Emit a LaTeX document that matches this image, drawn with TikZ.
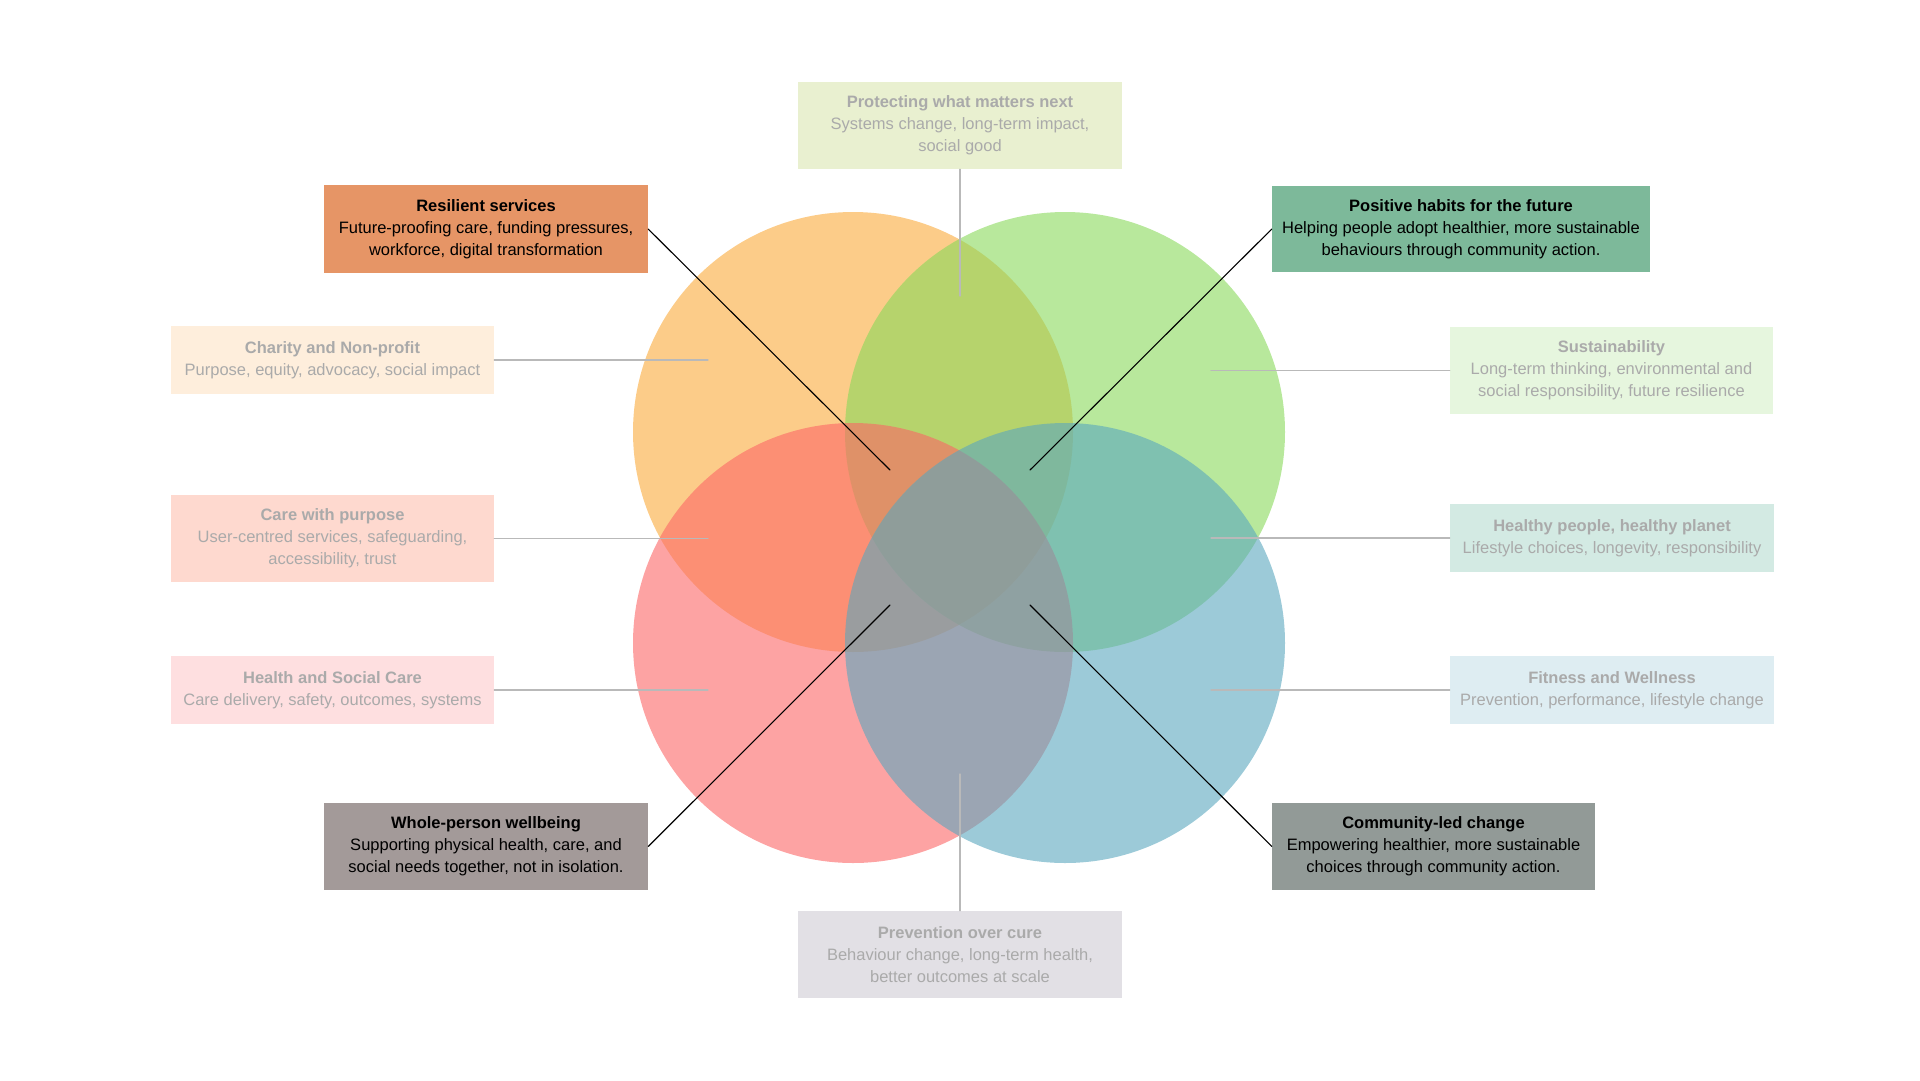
\documentclass[tikz,border=0pt]{standalone}
\usepackage{fontspec}
\setmainfont{Liberation Sans}
\usepackage{tikz}

\definecolor{ringorange}{RGB}{250,170,58}
\definecolor{ringgreen}{RGB}{136,217,90}
\definecolor{ringred}{RGB}{252,102,102}
\definecolor{ringblue}{RGB}{90,167,190}
\definecolor{fadedtext}{RGB}{170,170,170}
\definecolor{linkgray}{RGB}{185,185,185}

\definecolor{protectfill}{RGB}{233,240,208}
\definecolor{resilientfill}{RGB}{230,149,102}
\definecolor{habitsfill}{RGB}{125,185,154}
\definecolor{charityfill}{RGB}{254,238,220}
\definecolor{sustainfill}{RGB}{230,246,222}
\definecolor{carefill}{RGB}{254,217,207}
\definecolor{planetfill}{RGB}{211,234,227}
\definecolor{healthfill}{RGB}{254,223,224}
\definecolor{fitnessfill}{RGB}{222,237,242}
\definecolor{wholefill}{RGB}{163,154,153}
\definecolor{communityfill}{RGB}{146,154,151}
\definecolor{preventfill}{RGB}{226,224,229}

\tikzset{
  ring/.style={fill=#1, fill opacity=0.6},
  softbox/.style={fill=#1, text=fadedtext, align=center, inner sep=0pt,
    minimum width=324pt, minimum height=87pt,
    font=\fontsize{16.5}{22}\selectfont},
  strongbox/.style={softbox=#1, text=black},
  softlink/.style={draw=linkgray, line width=1.1pt},
  stronglink/.style={draw=black, line width=1.1pt}
}

\begin{document}
\begin{tikzpicture}[x=1pt,y=-1pt,line cap=round,line join=round]
    \useasboundingbox (0,0) rectangle (1920,1080);

    % the four circles
    \fill[ring=ringorange] (853,432) circle[radius=220pt];
    \fill[ring=ringgreen] (1065,432) circle[radius=220pt];
    \fill[ring=ringred] (853,643) circle[radius=220pt];
    \fill[ring=ringblue] (1065,643) circle[radius=220pt];

    % outer themes
    \node[softbox=protectfill] (protect) at (960,125.5)
        {\textbf{Protecting what matters next}\\Systems change, long-term impact,\\social good};
    \node[softbox=preventfill] (prevent) at (960,954.5)
        {\textbf{Prevention over cure}\\Behaviour change, long-term health,\\better outcomes at scale};

    \node[softbox=charityfill, minimum width=323pt, minimum height=68pt] (charity) at (332.5,360)
        {\textbf{Charity and Non-profit}\\Purpose, equity, advocacy, social impact};
    \node[softbox=carefill, minimum width=323pt] (care) at (332.5,538.5)
        {\textbf{Care with purpose}\\User-centred services, safeguarding,\\accessibility, trust};
    \node[softbox=healthfill, minimum width=323pt, minimum height=68pt] (health) at (332.5,690)
        {\textbf{Health and Social Care}\\Care delivery, safety, outcomes, systems};

    \node[softbox=sustainfill, minimum width=323pt] (sustain) at (1611.5,370.5)
        {\textbf{Sustainability}\\Long-term thinking, environmental and\\social responsibility, future resilience};
    \node[softbox=planetfill, minimum height=68pt] (planet) at (1612,538)
        {\textbf{Healthy people, healthy planet}\\Lifestyle choices, longevity, responsibility};
    \node[softbox=fitnessfill, minimum height=68pt] (fitness) at (1612,690)
        {\textbf{Fitness and Wellness}\\Prevention, performance, lifestyle change};

    % inner themes
    \node[strongbox=resilientfill, minimum height=88pt] (resilient) at (486,229)
        {\textbf{Resilient services}\\Future-proofing care, funding pressures,\\workforce, digital transformation};
    \node[strongbox=habitsfill, minimum width=378pt, minimum height=86pt] (habits) at (1461,229)
        {\textbf{Positive habits for the future}\\Helping people adopt healthier, more sustainable\\behaviours through community action.};
    \node[strongbox=wholefill] (whole) at (486,846.5)
        {\textbf{Whole-person wellbeing}\\Supporting physical health, care, and\\social needs together, not in isolation.};
    \node[strongbox=communityfill, minimum width=323pt] (community) at (1433.5,846.5)
        {\textbf{Community-led change}\\Empowering healthier, more sustainable\\choices through community action.};

    % ends of the connectors
    \coordinate (protectend) at (960,296);
    \coordinate (preventend) at (960,774);
    \coordinate (charityend) at (708,360);
    \coordinate (careend) at (708,538.5);
    \coordinate (healthend) at (708,690);
    \coordinate (sustainend) at (1211,370.5);
    \coordinate (planetend) at (1211,538);
    \coordinate (fitnessend) at (1211,690);
    \coordinate (resilientend) at (890,470);
    \coordinate (habitsend) at (1030,470);
    \coordinate (wholeend) at (890,605);
    \coordinate (communityend) at (1030,605);

    \draw[softlink] (protect.south) -- (protectend);
    \draw[softlink] (prevent.north) -- (preventend);
    \draw[softlink] (charity.east) -- (charityend);
    \draw[softlink] (care.east) -- (careend);
    \draw[softlink] (health.east) -- (healthend);
    \draw[softlink] (sustain.west) -- (sustainend);
    \draw[softlink] (planet.west) -- (planetend);
    \draw[softlink] (fitness.west) -- (fitnessend);

    \draw[stronglink] (resilient.east) -- (resilientend);
    \draw[stronglink] (habits.west) -- (habitsend);
    \draw[stronglink] (whole.east) -- (wholeend);
    \draw[stronglink] (community.west) -- (communityend);
\end{tikzpicture}
\end{document}
